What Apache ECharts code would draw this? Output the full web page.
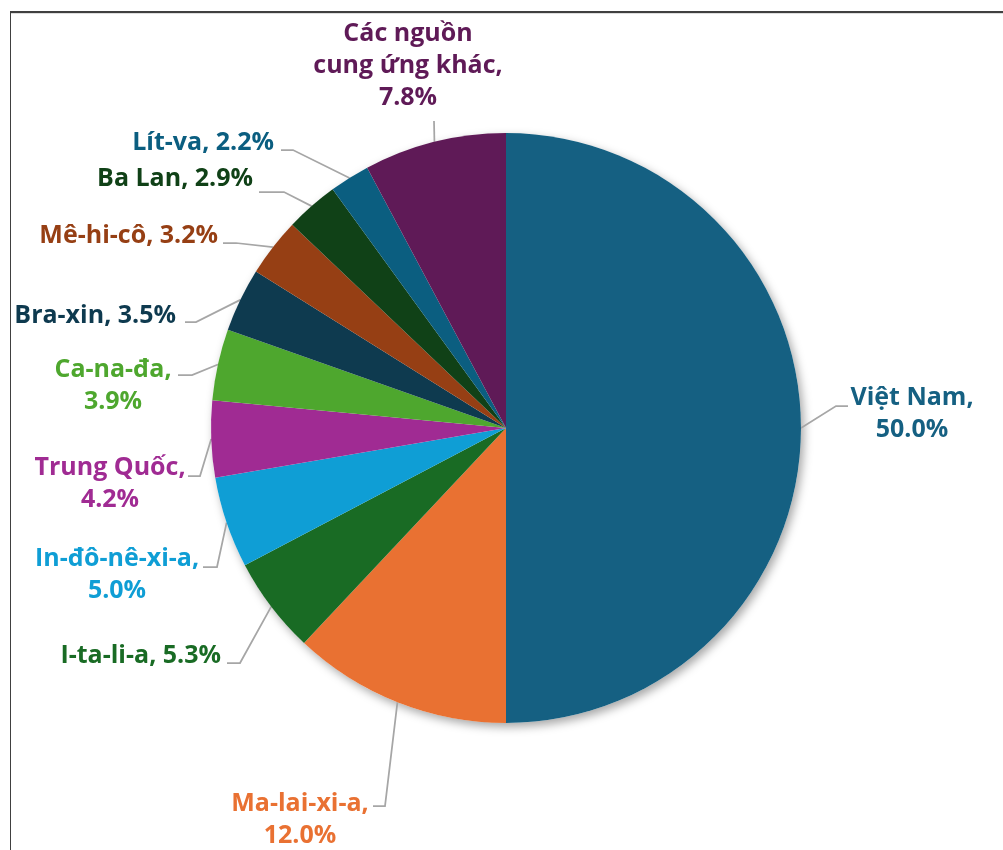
<!DOCTYPE html>
<html>
<head>
<meta charset="utf-8">
<script src="https://cdn.jsdelivr.net/npm/echarts@6/dist/echarts.min.js"></script>
<style>
  html, body { margin: 0; padding: 0; background: #fff; overflow: hidden; }
  #chart { width: 1003px; height: 850px; }
  #frame {
    position: absolute; left: 10px; top: 11px; width: 1100px; height: 1000px;
    border-top: 2px solid #404040; border-left: 1px solid #404040;
    box-shadow: inset 0 1px 0 #ddd; pointer-events: none;
  }
</style>
</head>
<body>
<div id="chart"></div>
<div id="frame"></div>
<script>
  const categories = ['Việt Nam', 'Ma-lai-xi-a', 'I-ta-li-a', 'In-đô-nê-xi-a', 'Trung Quốc',
    'Ca-na-đa', 'Bra-xin', 'Mê-hi-cô', 'Ba Lan', 'Lít-va', 'Các nguồn cung ứng khác']
  const shares = [50.0, 12.0, 5.3, 5.0, 4.2, 3.9, 3.5, 3.2, 2.9, 2.2, 7.8]
  const colors = ['#156082', '#E97132', '#196B24', '#0F9ED5', '#A02B93',
    '#4EA72E', '#0E3A4F', '#963F14', '#104117', '#0B5E80', '#5F1A57']
  // labels that wrap the value onto its own line
  const wrapped = [true, true, false, true, true, true, false, false, false, false, true]

  // label block position [x, y, align] and leader line join [x, y, bend dx]
  const labelSpots = [
    [912, 414, 'center'], [300, 820, 'center'], [221, 656, 'right'], [117, 575, 'center'],
    [110, 484, 'center'], [113, 386, 'center'], [176, 316, 'right'], [218, 236, 'right'],
    [253, 179, 'right'], [274, 143, 'right'], [408, 66, 'center']
  ]
  const lineJoins = [
    [848, 406, -12], [373, 806, 12], [227, 663, 13], [203, 567, 14],
    [188, 476, 12], [178, 375, 14], [185, 322, 11], [223, 243, 13],
    [259, 192, 25], [281, 150, 12], [434, 121, 0]
  ]

  const chart = echarts.init(document.getElementById('chart'))
  const total = shares.reduce((a, b) => a + b, 0)

  chart.setOption({
    animation: false,
    series: [
      { // soft shadow under the whole pie
        type: 'pie',
        center: [506, 428],
        radius: 295,
        silent: true,
        z: 1,
        label: {show: false},
        labelLine: {show: false},
        itemStyle: {
          color: '#fff',
          shadowBlur: 10,
          shadowOffsetX: 3,
          shadowOffsetY: 4,
          shadowColor: 'rgba(0,0,0,0.35)'
        },
        data: [total]
      },
      {
        type: 'pie',
        center: [506, 428],
        radius: 295,
        startAngle: 90,
        clockwise: true,
        z: 2,
        avoidLabelOverlap: false,
        itemStyle: {borderWidth: 0},
        label: {
          show: true,
          position: 'outside',
          fontFamily: 'Open Sans',
          fontWeight: 'bold',
          fontSize: 25,
          lineHeight: 32,
          formatter: function (p) {
            let nm = p.name.length > 16 ? p.name.replace(/^(\S+ \S+) /, '$1\n') : p.name
            return nm + (wrapped[p.dataIndex] ? ',\n' : ', ') + p.value.toFixed(1) + '%'
          }
        },
        labelLine: {
          show: true,
          lineStyle: {color: '#A6A6A6', width: 1.75}
        },
        labelLayout: function (params) {
          const s = labelSpots[params.dataIndex]
          const j = lineJoins[params.dataIndex]
          const out = {x: s[0], y: s[1], align: s[2], verticalAlign: 'middle'}
          if (params.labelLinePoints) {
            const edge = params.labelLinePoints[0]
            out.labelLinePoints = [[edge[0], edge[1]], [j[0] + j[2], j[1]], [j[0], j[1]]]
          }
          return out
        },
        data: categories.map((name, i) => ({
          name: name,
          value: shares[i],
          itemStyle: {color: colors[i]},
          label: {color: colors[i]}
        }))
      }
    ]
  })
</script>
</body>
</html>
